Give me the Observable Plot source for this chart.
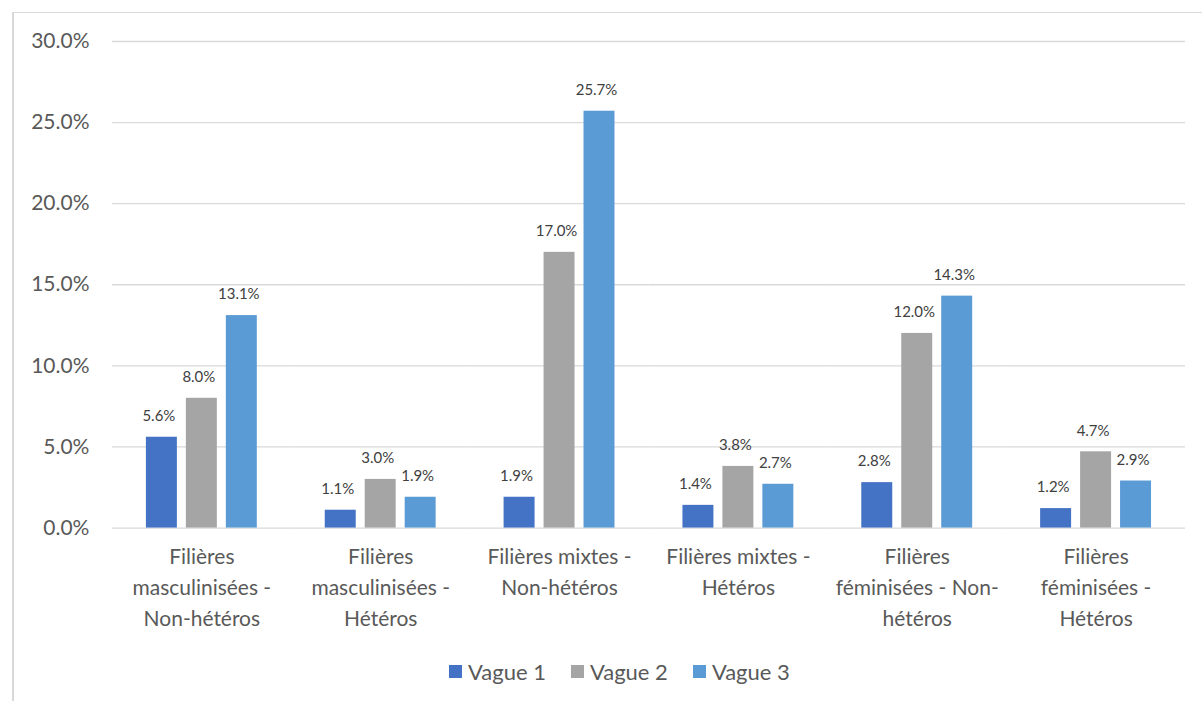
<!DOCTYPE html>
<html>
<head>
<meta charset="utf-8">
<script src="https://cdn.jsdelivr.net/npm/d3@7"></script>
<script src="https://cdn.jsdelivr.net/npm/@observablehq/plot@0.6"></script>
<style>
  body { margin: 0; background: #fff; font-family: Lato, "Open Sans", sans-serif; }
  #frame { position: absolute; left: 12px; top: 12px; width: 1210px; height: 710px;
           border-top: 1px solid #d9d9d9; border-left: 2px solid #d9d9d9; box-sizing: border-box; }
  #chart { position: absolute; left: 13px; top: 13px; }
  #legend { position: absolute; top: 658px; left: 449px; display: flex; align-items: center;
            font-size: 22px; color: #595959; }
  #legend .item { display: flex; align-items: center; margin-right: 25px; }
  #legend .sw { width: 13px; height: 13px; margin-right: 6px; }
</style>
</head>
<body>
<div id="frame"></div>
<div id="chart"></div>
<div id="legend"></div>
<script>
// Categories (with their line breaks as shown under the axis)
const categories = [
  "Filières\nmasculinisées -\nNon-hétéros",
  "Filières\nmasculinisées -\nHétéros",
  "Filières mixtes -\nNon-hétéros",
  "Filières mixtes -\nHétéros",
  "Filières\nféminisées - Non-\nhétéros",
  "Filières\nféminisées -\nHétéros"
];
const waves = ["Vague 1", "Vague 2", "Vague 3"];
const colors = ["#4472C4", "#A5A5A5", "#5B9BD5"];

// Shares in percent, one array per wave
const vague1 = [5.6, 1.1, 1.9, 1.4, 2.8, 1.2];
const vague2 = [8.0, 3.0, 17.0, 3.8, 12.0, 4.7];
const vague3 = [13.1, 1.9, 25.7, 2.7, 14.3, 2.9];

const yTicks = [0, 5, 10, 15, 20, 25, 30];

const series = [vague1, vague2, vague3];
const rows = [];
categories.forEach((c, i) => {
  waves.forEach((w, j) => rows.push({cat: c, wave: w, value: series[j][i]}));
});

const pct = d => d.toFixed(1) + "%";

const chart = Plot.plot({
  width: 1190,
  height: 640,
  marginLeft: 99,
  marginRight: 17,
  marginTop: 28,
  marginBottom: 125,
  style: {fontFamily: "Lato, 'Open Sans', sans-serif", background: "transparent"},
  fx: {domain: categories, padding: 0, label: null},
  x: {domain: waves, paddingInner: 0.225, paddingOuter: 0.85, axis: null},
  y: {domain: [0, 30], axis: null},
  color: {domain: waves, range: colors},
  marks: [
    Plot.ruleY(yTicks, {stroke: "#d9d9d9", strokeWidth: 1.3}),
    Plot.barY(rows, {fx: "cat", x: "wave", y: "value", fill: "wave"}),
    Plot.text(rows, {fx: "cat", x: "wave", y: "value", text: d => pct(d.value),
                     dy: -21, dx: -3, fontSize: 15, fill: "#404040"}),
    Plot.axisY({ticks: yTicks, tickFormat: pct, tickSize: 0, tickPadding: 23,
                fontSize: 21, fill: "#595959", label: null}),
    Plot.axisFx({anchor: "bottom", tickSize: 0, tickPadding: 14, fontSize: 21,
                 lineHeight: 1.48, fill: "#595959", label: null})
  ]
});
document.getElementById("chart").appendChild(chart);

// Legend
const legend = document.getElementById("legend");
waves.forEach((w, i) => {
  const item = document.createElement("div");
  item.className = "item";
  const sw = document.createElement("span");
  sw.className = "sw";
  sw.style.background = colors[i];
  const lab = document.createElement("span");
  lab.textContent = w;
  item.appendChild(sw);
  item.appendChild(lab);
  legend.appendChild(item);
});
</script>
</body>
</html>
